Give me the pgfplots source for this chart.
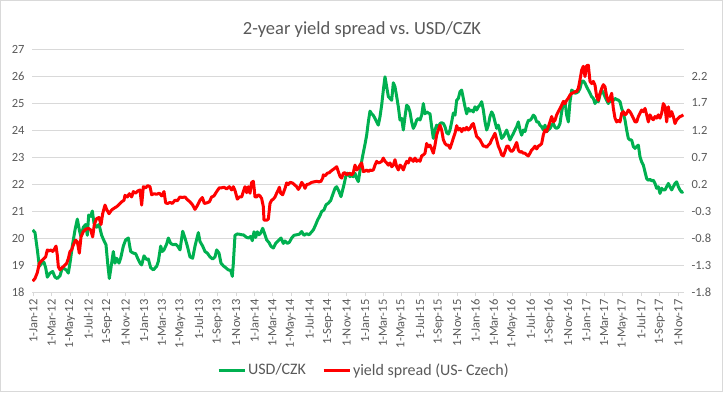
\documentclass[border=0pt]{standalone}
\usepackage{fontspec}
\setmainfont{Carlito}
\usepackage{pgfplots}
\usepackage{pgfplotstable}
\pgfplotsset{compat=1.18}
\definecolor{xgreen}{HTML}{00B050}
\definecolor{xred}{HTML}{FF0000}
\definecolor{xgrid}{HTML}{D9D9D9}
\definecolor{xtext}{HTML}{595959}

% X = position along the date axis (tick at 1-Jan-12 = 100, 1-Nov-17 = 2035)
\pgfplotstableread{
X V
98 20.30
105 20.20
112 19.56
118 18.95
125 19.07
132 19.10
137 18.90
142 18.55
150 18.70
158 18.76
165 18.55
172 18.50
180 18.60
187 18.90
195 18.85
200 18.80
205 18.70
210 19.07
217 19.70
225 20.30
232 20.70
238 20.30
243 20.05
250 20.40
257 20.50
262 20.10
266 20.85
272 20.80
277 21.00
282 20.55
290 20.40
297 20.50
305 20.10
312 19.90
318 19.75
323 19.07
328 18.50
335 19.07
340 19.50
345 19.07
350 19.25
357 19.07
362 19.25
370 19.70
377 19.93
385 20.00
392 19.50
400 19.44
407 19.42
413 19.25
420 19.07
425 19.00
432 19.34
440 19.20
445 19.22
452 18.90
460 18.82
470 18.95
475 19.13
482 19.70
487 19.50
492 19.56
500 19.78
505 20.00
512 19.80
520 19.75
527 19.77
533 19.70
540 19.56
548 20.25
555 20.00
562 19.70
570 19.30
578 19.25
585 19.70
595 20.20
600 19.87
608 19.70
615 19.50
622 19.44
630 19.30
638 19.22
645 19.30
650 19.56
657 19.44
663 19.07
670 18.97
677 18.90
685 18.82
692 18.80
697 18.58
700 19.07
705 20.10
712 20.15
718 20.14
725 20.12
730 20.12
740 20.02
747 20.00
752 20.06
757 19.90
762 20.23
767 20.02
772 20.23
777 20.12
782 20.18
788 20.36
795 20.12
800 19.93
807 19.83
813 19.69
820 19.63
827 19.80
835 19.90
843 20.00
850 19.80
855 19.89
862 19.80
868 19.84
875 20.00
882 20.10
890 20.12
898 20.14
905 20.24
912 20.10
920 20.16
927 20.12
933 20.20
940 20.30
947 20.49
953 20.67
960 20.83
965 20.98
972 21.04
978 21.23
985 21.29
992 21.39
998 21.60
1005 21.84
1010 21.90
1017 21.72
1023 21.53
1028 21.78
1033 22.03
1037 22.27
1042 22.40
1050 22.27
1055 22.33
1060 22.27
1065 22.40
1070 22.21
1075 22.09
1082 22.64
1088 23.04
1095 23.47
1100 23.81
1105 24.30
1110 24.70
1115 24.60
1120 24.54
1125 24.43
1130 24.30
1135 24.18
1140 24.49
1145 24.92
1150 25.48
1155 25.97
1160 25.60
1165 25.24
1170 25.17
1175 25.10
1180 25.75
1185 25.60
1190 25.24
1195 24.86
1200 24.37
1205 24.43
1210 24.00
1215 24.49
1220 24.92
1225 24.86
1230 24.67
1235 24.30
1240 24.06
1245 24.18
1250 24.37
1255 24.43
1260 24.37
1265 24.55
1270 24.98
1275 24.60
1280 24.67
1285 24.63
1290 24.60
1295 24.12
1300 23.69
1305 24.00
1310 24.18
1315 24.10
1320 24.24
1325 24.27
1330 24.24
1335 24.12
1340 23.90
1345 23.85
1350 24.00
1355 24.30
1360 24.63
1365 24.55
1370 25.10
1375 25.17
1380 25.42
1385 25.48
1390 25.17
1395 24.86
1400 24.60
1405 24.80
1410 24.70
1415 24.74
1420 24.67
1425 24.86
1430 24.74
1435 24.86
1440 24.93
1445 25.05
1450 24.74
1455 24.30
1460 24.00
1465 24.18
1470 24.50
1475 24.67
1480 24.55
1485 24.30
1490 24.06
1495 24.18
1500 23.94
1505 23.69
1510 23.75
1515 23.87
1520 24.00
1525 23.81
1530 23.63
1535 23.75
1540 23.87
1545 24.00
1550 24.12
1555 24.30
1560 24.00
1565 23.81
1570 24.00
1575 23.94
1580 24.18
1585 24.36
1590 24.36
1595 24.43
1600 24.55
1605 24.49
1610 24.30
1615 24.30
1620 24.18
1625 24.12
1630 24.00
1635 24.18
1640 23.94
1645 24.00
1650 24.06
1655 24.18
1660 24.24
1665 24.10
1670 24.06
1675 24.10
1680 24.24
1685 24.67
1690 24.98
1695 25.05
1700 24.55
1705 24.30
1710 25.05
1715 25.48
1720 25.42
1725 25.36
1730 25.38
1735 25.42
1740 25.54
1745 25.79
1750 25.82
1755 25.73
1760 25.60
1765 25.48
1770 25.36
1775 25.23
1780 25.17
1785 24.98
1790 25.10
1795 25.05
1800 25.30
1805 25.48
1810 25.38
1815 25.23
1820 25.10
1825 24.98
1830 25.10
1835 25.05
1840 25.10
1845 25.17
1850 25.13
1855 25.11
1860 25.05
1865 24.80
1870 24.62
1875 24.37
1880 24.00
1885 23.69
1890 23.63
1895 23.63
1900 23.39
1905 23.32
1910 23.39
1915 23.44
1920 23.01
1925 22.82
1930 22.70
1935 22.45
1940 22.20
1945 22.14
1950 22.17
1955 22.12
1960 22.14
1965 22.02
1970 21.84
1975 21.90
1980 21.65
1985 21.84
1990 21.78
1995 21.78
2000 21.90
2005 22.02
2010 21.90
2015 21.78
2020 21.90
2025 22.02
2030 22.08
2035 21.90
2040 21.78
2045 21.69
2050 21.72
}\usdczk

\pgfplotstableread{
X S
98 -1.60
105 -1.55
112 -1.44
118 -1.27
125 -1.22
132 -1.18
137 -1.15
142 -1.02
148 -1.04
153 -1.02
158 -1.05
163 -1.01
168 -0.95
172 -1.12
175 -1.33
180 -1.39
188 -1.34
195 -1.30
200 -1.27
205 -1.18
210 -1.05
215 -1.02
220 -0.93
227 -0.84
232 -0.87
238 -1.08
243 -0.78
250 -0.68
257 -0.64
265 -0.62
272 -0.65
278 -0.78
283 -0.55
290 -0.44
297 -0.42
303 -0.55
308 -0.35
315 -0.19
320 -0.27
327 -0.35
335 -0.28
342 -0.25
350 -0.22
357 -0.18
365 -0.13
372 -0.10
375 -0.01
382 -0.04
388 0.02
395 -0.04
400 0.06
407 0.03
413 0.07
420 0.09
425 -0.19
430 0.15
437 0.13
443 0.17
450 0.15
455 0.00
462 0.02
470 0.01
478 0.03
485 -0.02
492 0.06
497 -0.15
503 -0.16
510 -0.14
517 -0.16
525 -0.10
532 -0.11
540 -0.04
547 -0.05
555 -0.04
562 -0.09
570 -0.13
578 -0.19
585 -0.27
592 -0.20
600 -0.10
607 -0.05
613 -0.16
620 -0.15
628 -0.13
635 -0.04
642 -0.02
650 0.06
658 0.13
665 0.13
672 0.14
680 0.11
688 0.15
695 0.09
700 0.15
705 0.08
712 -0.08
718 -0.04
725 -0.04
730 0.06
735 0.15
740 0.04
745 0.15
750 0.03
755 0.23
760 0.25
763 0.09
765 -0.04
770 -0.04
775 0.00
780 -0.02
785 -0.07
790 -0.22
792 -0.47
800 -0.47
805 -0.45
810 -0.16
815 -0.10
820 -0.08
825 -0.04
830 0.03
835 0.09
838 0.14
842 0.03
848 0.00
855 0.12
860 0.22
865 0.19
870 0.23
877 0.22
883 0.19
890 0.15
895 0.10
900 0.15
905 0.23
910 0.19
915 0.12
920 0.19
927 0.20
935 0.23
942 0.24
950 0.25
957 0.24
963 0.25
968 0.31
970 0.37
975 0.35
982 0.40
988 0.41
995 0.45
1002 0.48
1010 0.52
1015 0.43
1020 0.34
1025 0.31
1030 0.40
1035 0.41
1040 0.37
1045 0.39
1050 0.40
1055 0.37
1060 0.41
1065 0.55
1070 0.46
1075 0.49
1080 0.55
1085 0.59
1090 0.43
1095 0.44
1100 0.46
1105 0.43
1110 0.46
1115 0.45
1120 0.46
1125 0.55
1130 0.62
1135 0.59
1140 0.60
1145 0.62
1150 0.68
1155 0.62
1160 0.59
1165 0.55
1170 0.59
1175 0.52
1180 0.55
1185 0.65
1190 0.52
1195 0.46
1200 0.55
1205 0.52
1210 0.46
1215 0.55
1220 0.62
1225 0.59
1230 0.68
1235 0.65
1240 0.62
1245 0.68
1250 0.62
1255 0.65
1260 0.62
1265 0.72
1270 0.74
1275 0.77
1280 0.95
1285 0.89
1290 0.92
1295 0.85
1300 0.77
1305 0.92
1310 1.11
1315 1.20
1320 1.29
1325 1.20
1330 1.02
1335 0.95
1340 0.92
1345 0.92
1350 0.86
1355 0.95
1360 1.05
1365 1.14
1370 1.28
1375 1.20
1380 1.23
1385 1.17
1390 1.23
1395 1.20
1400 1.25
1405 1.20
1410 1.23
1415 1.29
1420 1.32
1425 1.20
1430 1.08
1435 1.05
1440 1.02
1445 0.96
1450 0.90
1455 0.90
1460 0.88
1465 0.92
1470 0.95
1475 1.02
1480 1.08
1485 1.14
1490 1.02
1495 0.90
1500 0.83
1505 0.74
1510 0.72
1515 0.80
1520 0.90
1525 0.90
1530 0.83
1535 0.80
1540 0.83
1545 0.90
1550 0.97
1555 0.83
1560 0.79
1565 0.80
1570 0.77
1575 0.77
1580 0.74
1585 0.72
1590 0.77
1595 0.83
1600 0.86
1605 0.90
1610 0.85
1615 0.90
1620 0.92
1625 0.95
1630 1.11
1635 1.20
1640 1.17
1645 1.26
1650 1.35
1655 1.45
1660 1.35
1665 1.38
1670 1.48
1675 1.54
1680 1.60
1685 1.66
1690 1.73
1695 1.69
1700 1.75
1705 1.79
1710 1.85
1715 1.88
1720 1.89
1725 1.91
1730 1.91
1735 1.97
1740 2.13
1745 2.31
1750 2.38
1755 2.19
1760 2.39
1765 2.40
1770 2.10
1775 2.06
1780 2.10
1785 2.03
1790 1.82
1795 1.75
1800 1.88
1805 1.97
1810 2.04
1815 2.00
1820 1.82
1825 1.73
1830 1.79
1835 1.88
1840 1.60
1845 1.42
1850 1.35
1855 1.38
1860 1.35
1865 1.51
1870 1.54
1875 1.48
1880 1.51
1885 1.57
1890 1.54
1895 1.48
1900 1.42
1905 1.35
1910 1.35
1915 1.45
1920 1.51
1925 1.57
1930 1.54
1935 1.60
1940 1.48
1945 1.35
1950 1.48
1955 1.42
1960 1.39
1965 1.45
1970 1.42
1975 1.48
1980 1.42
1985 1.51
1990 1.69
1995 1.63
2000 1.35
2005 1.63
2010 1.45
2015 1.54
2020 1.45
2025 1.32
2030 1.39
2035 1.42
2040 1.45
2045 1.46
2050 1.48
}\spread

\pgfplotsset{
  common/.style={
    at={(32pt,100pt)}, anchor=south west,
    scale only axis, width=652pt, height=243pt,
    xmin=96, xmax=2052,
    tick label style={text=xtext, font=\fontsize{12.5}{14}\selectfont},
    /pgf/number format/assume math mode=true,
  },
}

\begin{document}
\begin{tikzpicture}[x=1pt,y=1pt]
\path[use as bounding box] (0,0) rectangle (723,392);
\draw[xgrid, line width=1pt] (0.5,0.5) rectangle (722.5,391.5);
\node[text=xtext, font=\fontsize{18.5}{22}\selectfont] at (362,362) {2-year yield spread vs.\ USD/CZK};

\begin{axis}[common,
  ymin=18, ymax=27, ytick={18,19,...,27},
  ymajorgrids, grid style={xgrid, line width=0.8pt},
  axis x line*=bottom, axis y line*=left,
  x axis line style={xgrid, line width=0.8pt, -},
  y axis line style={draw=none},
  ytick style={draw=none},
  xtick style={xgrid, line width=0.8pt},
  tick align=outside, major tick length=4pt,
  xtick={100,154.5,209.9,265.3,321.6,376.9,432.3,485.9,541.3,596.7,653.0,708.4,763.7,817.3,872.7,928.1,984.4,1039.8,1095.2,1148.7,1204.1,1259.5,1315.8,1371.2,1426.6,1481.1,1536.5,1591.8,1648.1,1703.5,1758.9,1812.5,1867.9,1923.3,1979.6,2034.9},
  xticklabels={1-Jan-12,1-Mar-12,1-May-12,1-Jul-12,1-Sep-12,1-Nov-12,1-Jan-13,1-Mar-13,1-May-13,1-Jul-13,1-Sep-13,1-Nov-13,1-Jan-14,1-Mar-14,1-May-14,1-Jul-14,1-Sep-14,1-Nov-14,1-Jan-15,1-Mar-15,1-May-15,1-Jul-15,1-Sep-15,1-Nov-15,1-Jan-16,1-Mar-16,1-May-16,1-Jul-16,1-Sep-16,1-Nov-16,1-Jan-17,1-Mar-17,1-May-17,1-Jul-17,1-Sep-17,1-Nov-17},
  xticklabel style={rotate=90, anchor=east},
  yticklabel style={anchor=east},
]
\addplot[xgreen, line width=3pt, line join=round, no marks] table[x=X, y=V] {\usdczk};
\end{axis}

\begin{axis}[common,
  ymin=-1.8, ymax=2.7,
  ytick={-1.8,-1.3,-0.8,-0.3,0.2,0.7,1.2,1.7,2.2},
  /pgf/number format/fixed, /pgf/number format/fixed zerofill, /pgf/number format/precision=1,
  axis x line=none, axis y line*=right,
  y axis line style={draw=none},
  ytick style={draw=none},
  yticklabel style={anchor=west, xshift=4pt},
  legend style={at={(0.509,-0.321)}, anchor=center, draw=none, fill=none,
    legend columns=2, font=\fontsize{16}{18}\selectfont, text=xtext,
    /tikz/every even column/.append style={column sep=14pt}},
  legend image code/.code={\draw[#1, line width=3pt] (0pt,0pt) -- (26pt,0pt);},
]
\addlegendimage{xgreen}
\addlegendentry{USD/CZK}
\addplot[xred, line width=3pt, line join=round, no marks] table[x=X, y=S] {\spread};
\addlegendentry{yield spread (US- Czech)}
\end{axis}
\end{tikzpicture}
\end{document}
